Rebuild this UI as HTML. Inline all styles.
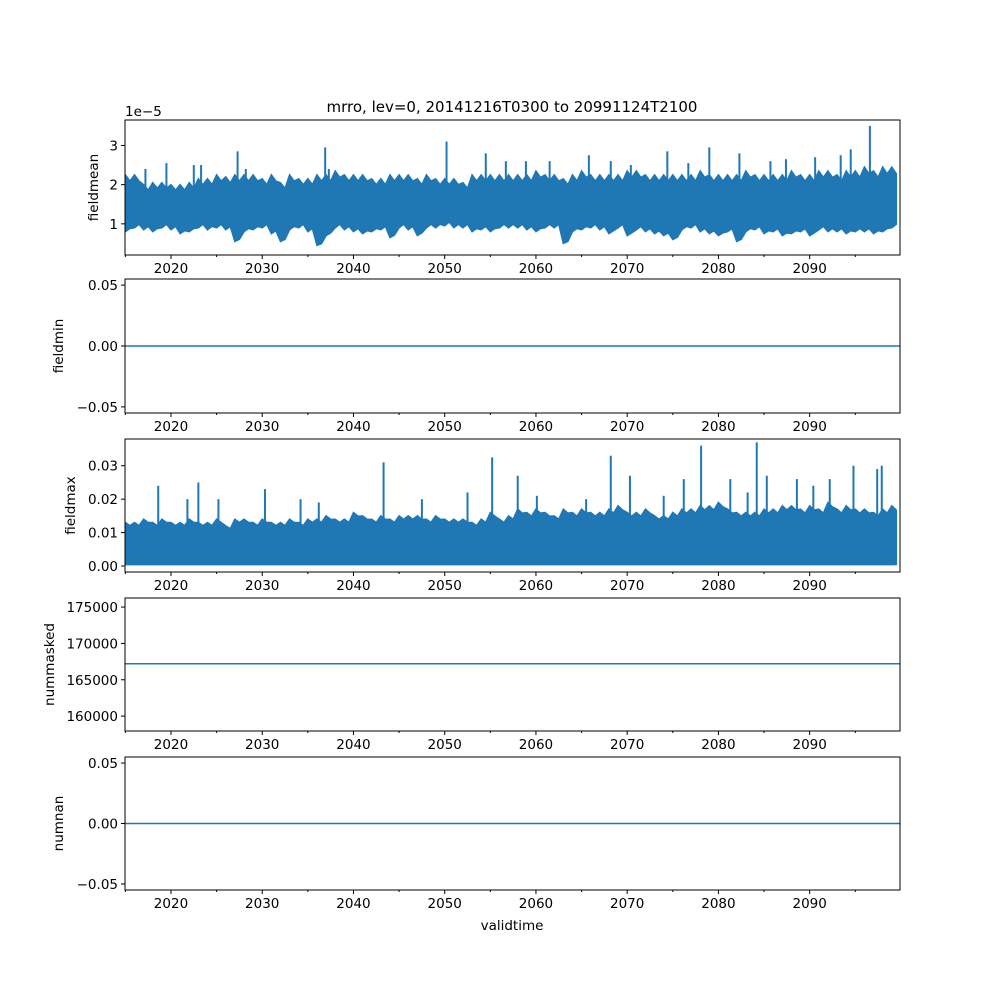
<!DOCTYPE html>
<html><head><meta charset="utf-8"><style>
body{margin:0;background:#fff}
svg text{font-family:"DejaVu Sans","Liberation Sans",sans-serif;font-size:13.5px;fill:#000}
</style></head><body>
<svg id="fig" width="1000" height="1000" xmlns="http://www.w3.org/2000/svg">
<rect width="1000" height="1000" fill="#fff"/>
<text x="512" y="112" text-anchor="middle" style="font-size:15px">mrro, lev=0, 20141216T0300 to 20991124T2100</text>
<text x="512" y="930" text-anchor="middle">validtime</text>
</svg>
<script>
const years = [];for(let y=2015;y<=2099;y++)years.push(y);
const meanHi=[2.25,2.25,2.0,2.05,2.05,2.0,2.0,2.05,2.15,2.15,2.25,2.2,2.25,2.25,2.25,2.15,2.25,2.05,2.25,2.15,2.15,2.25,2.25,2.35,2.25,2.25,2.25,2.15,2.15,2.25,2.25,2.25,2.15,2.25,2.15,2.15,2.15,2.05,2.25,2.25,2.25,2.25,2.25,2.25,2.25,2.35,2.25,2.25,2.15,2.25,2.35,2.25,2.25,2.25,2.25,2.35,2.35,2.25,2.25,2.25,2.25,2.25,2.25,2.35,2.25,2.25,2.25,2.25,2.35,2.25,2.25,2.25,2.25,2.35,2.25,2.25,2.35,2.35,2.25,2.35,2.35,2.45,2.35,2.45,2.45];
const meanLo=[0.8,0.9,0.85,0.8,0.9,0.85,0.75,0.8,0.9,0.85,0.9,0.85,0.55,0.8,0.85,0.9,0.75,0.55,0.85,0.9,0.8,0.45,0.7,0.9,0.85,0.8,0.75,0.8,0.85,0.65,0.9,0.85,0.7,0.9,0.9,0.95,0.9,0.9,0.8,0.85,0.8,0.9,0.9,0.9,0.85,0.8,0.9,0.9,0.5,0.8,0.85,0.9,0.85,0.75,0.9,0.7,0.85,0.8,0.75,0.7,0.6,0.85,0.9,0.8,0.75,0.7,0.8,0.55,0.8,0.85,0.75,0.8,0.7,0.75,0.8,0.7,0.85,0.8,0.8,0.75,0.8,0.8,0.75,0.8,0.9];
const meanSpikeT=[2017.2,2019.5,2022.5,2023.3,2027.3,2028.2,2036.9,2037.3,2050.2,2054.5,2056.7,2058.9,2061.5,2065.8,2068.2,2070.4,2074.4,2076.7,2079.0,2082.3,2085.7,2087.4,2090.6,2093.4,2094.5,2096.6];
const meanSpikeV=[2.4,2.55,2.5,2.5,2.85,2.4,2.95,2.4,3.1,2.8,2.6,2.6,2.6,2.75,2.6,2.5,2.85,2.55,2.95,2.8,2.6,2.65,2.7,2.75,2.9,3.5];
const maxHi=[0.013,0.013,0.014,0.013,0.014,0.013,0.013,0.014,0.013,0.013,0.014,0.012,0.014,0.014,0.013,0.014,0.013,0.013,0.014,0.013,0.014,0.014,0.015,0.014,0.014,0.016,0.015,0.014,0.015,0.014,0.015,0.015,0.015,0.014,0.015,0.014,0.014,0.014,0.013,0.014,0.016,0.014,0.015,0.017,0.016,0.017,0.016,0.015,0.017,0.016,0.017,0.016,0.016,0.017,0.018,0.016,0.016,0.017,0.015,0.015,0.016,0.017,0.017,0.018,0.018,0.019,0.017,0.016,0.016,0.016,0.017,0.017,0.018,0.018,0.017,0.018,0.017,0.019,0.017,0.018,0.017,0.017,0.016,0.017,0.018];
const maxSpikeT=[2018.6,2021.8,2023.0,2025.2,2030.3,2034.2,2036.2,2043.3,2047.5,2052.5,2055.2,2058.0,2060.1,2065.5,2068.2,2070.3,2074.0,2076.2,2078.1,2081.3,2083.2,2084.2,2085.3,2088.6,2090.4,2092.2,2094.8,2097.4,2097.9];
const maxSpikeV=[0.024,0.020,0.025,0.020,0.023,0.020,0.019,0.031,0.020,0.022,0.0325,0.027,0.021,0.020,0.033,0.027,0.021,0.026,0.036,0.026,0.022,0.037,0.027,0.026,0.024,0.026,0.030,0.029,0.030];
const fieldminV=0, nummaskedV=167200, numnanV=0;
const xTicks=[2020,2030,2040,2050,2060,2070,2080,2090];
const L=125,R=900,X0=2014.96,X1=2099.9;
const sx=t=>L+(t-X0)/(X1-X0)*(R-L);
const svg=document.getElementById('fig');const NS='http://www.w3.org/2000/svg';
function mk(tag,attrs,parent){const e=document.createElementNS(NS,tag);for(const k in attrs)e.setAttribute(k,attrs[k]);(parent||svg).appendChild(e);return e;}
const C='#1f77b4';
function panel(name,top,bot,y0,y1,yticks,ylabels,ylabX,label){
  const g=mk('g',{});
  
  
  const sy=v=>bot-(v-y0)/(y1-y0)*(bot-top);
  const clip=mk('clipPath',{id:'c'+name},g);mk('rect',{x:L,y:top,width:R-L,height:bot-top},clip);
  const plot=mk('g',{'clip-path':'url(#c'+name+')'},g);
  
  
  const fr=mk('rect',{x:L,y:top,width:R-L,height:bot-top,fill:'none',stroke:'#000','stroke-width':1},g);
  
  
  xTicks.forEach(t=>{const x=sx(t);mk('line',{x1:x,x2:x,y1:bot,y2:bot+4,stroke:'#000'},g);
    const tx=mk('text',{x:x,y:bot+18,'text-anchor':'middle'},g);tx.textContent=t;
    
    });
  for(let t=2015;t<=2095;t+=5){if(t%10){const x=sx(t);mk('line',{x1:x,x2:x,y1:bot,y2:bot+2,stroke:'#000'},g);}}
  yticks.forEach((v,i)=>{const y=sy(v);mk('line',{x1:L-4,x2:L,y1:y,y2:y,stroke:'#000'},g);
    const tx=mk('text',{x:L-7,y:y+5,'text-anchor':'end'},g);tx.textContent=ylabels[i];
    
    });
  const yl=mk('text',{x:ylabX,y:(top+bot)/2,'text-anchor':'middle',transform:`rotate(-90 ${ylabX} ${(top+bot)/2})`},g);yl.textContent=label;
  
  
  return {sy,plot,g};
}
function band(p,hi,lo){
  let d='';years.forEach((y,i)=>{d+=(i?'L':'M')+sx(y)+','+p.sy(hi[i]);d+='L'+sx(y+0.5)+','+p.sy(hi[i]*0.93);});
  for(let i=years.length-1;i>=0;i--){d+='L'+sx(years[i]+0.5)+','+p.sy(lo[i]*1.1)+'L'+sx(years[i])+','+p.sy(lo[i]);}
  const e=mk('path',{d:d+'Z',fill:C,stroke:C,'stroke-width':1.5},p.plot);
  
  
}
function spikes(p,T,V,base){T.forEach((t,i)=>{const e=mk('line',{x1:sx(t),x2:sx(t),y1:p.sy(base),y2:p.sy(V[i]),stroke:C,'stroke-width':2},p.plot);
  
  });}
function hline(p,v){const e=mk('line',{x1:L,x2:R,y1:p.sy(v),y2:p.sy(v),stroke:C,'stroke-width':1.5},p.plot);
  
  }
const p1=panel('fieldmean',120,255,0.205,3.65,[1,2,3],['1','2','3'],98,'fieldmean');
band(p1,meanHi,meanLo);spikes(p1,meanSpikeT,meanSpikeV,1.5);
const ex=mk('text',{x:125,y:116},p1.g);ex.textContent='1e\u22125';


const p2=panel('fieldmin',279,413,-0.055,0.055,[-0.05,0,0.05],['\u22120.05','0.00','0.05'],63,'fieldmin');hline(p2,fieldminV);
const p3=panel('fieldmax',439,572,-0.0018,0.038,[0,0.01,0.02,0.03],['0.00','0.01','0.02','0.03'],75,'fieldmax');
band(p3,maxHi,years.map(()=>0.0004));spikes(p3,maxSpikeT,maxSpikeV,0.005);
const p4=panel('nummasked',598,731,157950,176250,[160000,165000,170000,175000],['160000','165000','170000','175000'],54,'nummasked');hline(p4,nummaskedV);
const p5=panel('numnan',757,890,-0.055,0.055,[-0.05,0,0.05],['\u22120.05','0.00','0.05'],63,'numnan');hline(p5,numnanV);
</script>
</body></html>
